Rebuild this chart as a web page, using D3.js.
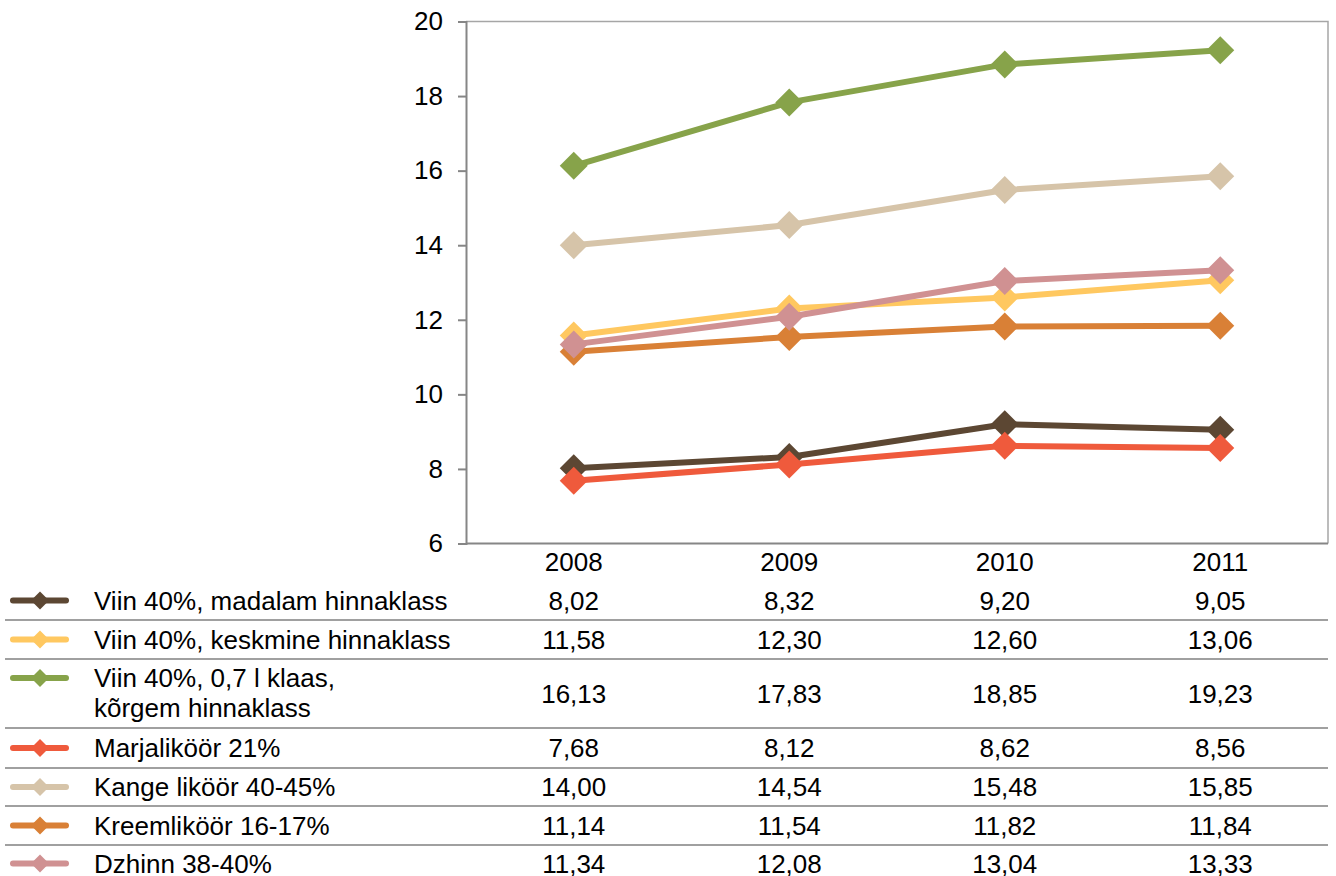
<!DOCTYPE html>
<html>
<head>
<meta charset="utf-8">
<script src="https://cdn.jsdelivr.net/npm/d3@7"></script>
<style>
  body { margin: 0; background: #fff; }
  text { font-family: "Liberation Sans", Arial, sans-serif; fill: #000; }
</style>
</head>
<body>
<div id="chart"></div>
<script>
const years = ["2008", "2009", "2010", "2011"]
const seriesNames = [
  ["Viin 40%, madalam hinnaklass"],
  ["Viin 40%, keskmine hinnaklass"],
  ["Viin 40%, 0,7 l klaas,", "kõrgem hinnaklass"],
  ["Marjaliköör 21%"],
  ["Kange liköör 40-45%"],
  ["Kreemliköör 16-17%"],
  ["Dzhinn 38-40%"]
]
const viinMadal = [8.02, 8.32, 9.20, 9.05]
const viinKeskmine = [11.58, 12.30, 12.60, 13.06]
const viinKorgem = [16.13, 17.83, 18.85, 19.23]
const marjalikoor = [7.68, 8.12, 8.62, 8.56]
const kangeLikoor = [14.00, 14.54, 15.48, 15.85]
const kreemlikoor = [11.14, 11.54, 11.82, 11.84]
const dzhinn = [11.34, 12.08, 13.04, 13.33]
const yTicks = [6, 8, 10, 12, 14, 16, 18, 20]
const colors = ["#5c4733", "#ffc860", "#87a34a", "#ef5a3c", "#d6c4a9", "#d98036", "#d09192"]

const allValues = [viinMadal, viinKeskmine, viinKorgem, marjalikoor, kangeLikoor, kreemlikoor, dzhinn]
const series = allValues.map((v, i) => ({ name: seriesNames[i], values: v, color: colors[i] }))

const width = 1336
const height = 876
const fontSize = 26
const plot = { left: 466, right: 1328, top: 21.5, bottom: 543.5 }

const svg = d3.select("#chart").append("svg")
  .attr("width", width)
  .attr("height", height)

const xScale = d3.scaleBand()
  .domain(years)
  .range([plot.left, plot.right])
const xCenter = d => xScale(d) + xScale.bandwidth() / 2

const yScale = d3.scaleLinear()
  .domain([6, 20])
  .range([plot.bottom, plot.top])

// plot border (top + right)
svg.append("path")
  .attr("d", `M${plot.left},${plot.top}H${plot.right}V${plot.bottom}`)
  .attr("fill", "none")
  .attr("stroke", "#a6a6a6")
  .attr("stroke-width", 1.5)

// bottom axis line, no ticks
svg.append("line")
  .attr("x1", plot.left).attr("x2", plot.right)
  .attr("y1", plot.bottom).attr("y2", plot.bottom)
  .attr("stroke", "#868686")
  .attr("stroke-width", 2)

const yAxis = d3.axisLeft(yScale)
  .tickValues(yTicks)
  .tickSize(8)
  .tickPadding(15)
  .tickFormat(d => d)

const yG = svg.append("g")
  .attr("transform", `translate(${plot.left},0)`)
  .call(yAxis)
yG.select(".domain").attr("stroke", "#868686").attr("stroke-width", 2)
yG.selectAll(".tick line").attr("stroke", "#868686").attr("stroke-width", 2)
yG.selectAll(".tick text")
  .attr("font-size", fontSize)
  .attr("font-family", "Liberation Sans, Arial, sans-serif")
  .attr("fill", "#000")

// year labels
svg.selectAll(".year")
  .data(years)
  .enter().append("text")
  .attr("class", "year")
  .attr("x", d => xCenter(d))
  .attr("y", 571)
  .attr("text-anchor", "middle")
  .attr("font-size", fontSize)
  .text(d => d)

// lines and markers
const line = d3.line()
  .x((d, i) => xCenter(years[i]))
  .y(d => yScale(d))

const diamond = r => `M0,${-r}L${r},0L0,${r}L${-r},0Z`

series.forEach(s => {
  const g = svg.append("g")
  g.append("path")
    .datum(s.values)
    .attr("d", line)
    .attr("fill", "none")
    .attr("stroke", s.color)
    .attr("stroke-width", 6)
    .attr("stroke-linejoin", "round")
  g.selectAll("path.mk")
    .data(s.values)
    .enter().append("path")
    .attr("class", "mk")
    .attr("d", diamond(14))
    .attr("transform", (d, i) => `translate(${xCenter(years[i])},${yScale(d)})`)
    .attr("fill", s.color)
})

// data table
const rowTops = [581, 620, 659, 728, 768, 806, 845]
const rowHeights = [39, 39, 69, 40, 38, 39, 37]
const fmt = v => v.toFixed(2).replace(".", ",")

series.forEach((s, i) => {
  const top = rowTops[i]
  const mid = top + rowHeights[i] / 2
  const firstY = s.name.length > 1 ? top + 19 : mid

  // separator line above row (except first)
  if (i > 0) {
    svg.append("line")
      .attr("x1", 5).attr("x2", plot.right)
      .attr("y1", top).attr("y2", top)
      .attr("stroke", "#a0a0a0")
      .attr("stroke-width", 2)
  }

  // legend icon
  svg.append("line")
    .attr("x1", 13).attr("x2", 66)
    .attr("y1", firstY).attr("y2", firstY)
    .attr("stroke", s.color)
    .attr("stroke-width", 6)
    .attr("stroke-linecap", "round")
  svg.append("path")
    .attr("d", diamond(9))
    .attr("transform", `translate(40,${firstY})`)
    .attr("fill", s.color)

  s.name.forEach((n, k) => {
    svg.append("text")
      .attr("x", 94)
      .attr("y", firstY + k * 30)
      .attr("dy", "0.35em")
      .attr("font-size", fontSize)
      .text(n)
  })

  svg.selectAll(null)
    .data(s.values)
    .enter().append("text")
    .attr("x", (d, j) => xCenter(years[j]))
    .attr("y", mid)
    .attr("dy", "0.35em")
    .attr("text-anchor", "middle")
    .attr("font-size", fontSize)
    .text(d => fmt(d))
})
</script>
</body>
</html>
